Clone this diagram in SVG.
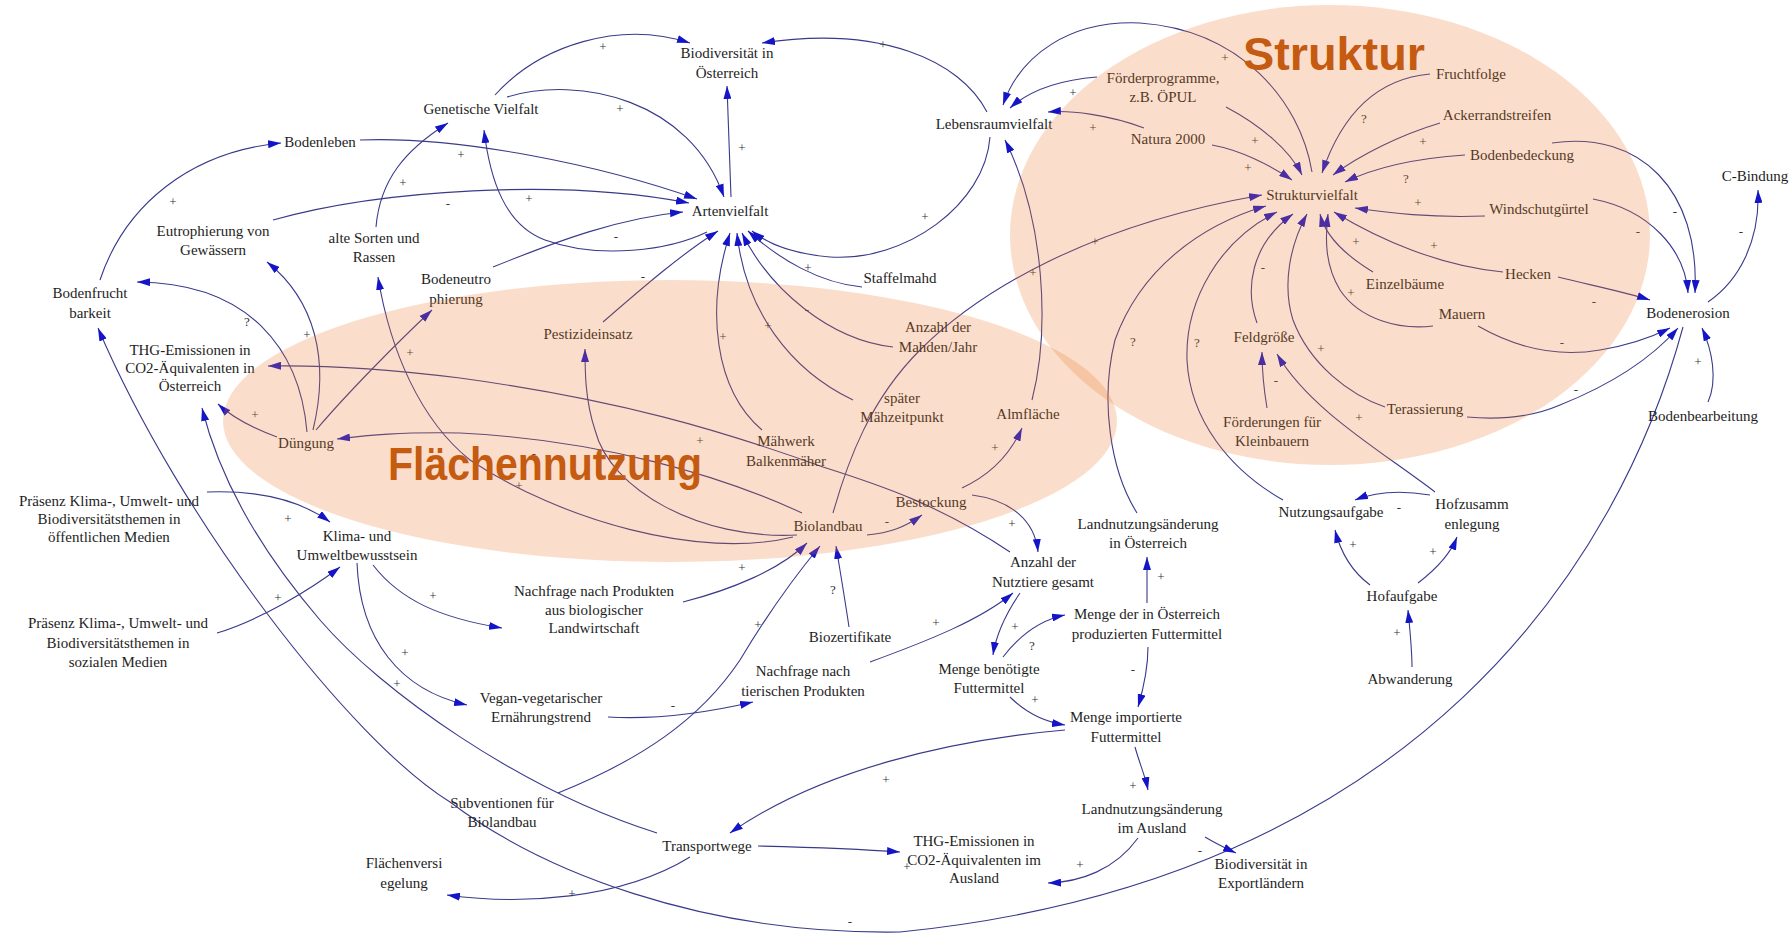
<svg xmlns="http://www.w3.org/2000/svg" width="1790" height="934" viewBox="0 0 1790 934">
<style>
.n{font-family:"Liberation Serif","Times New Roman",serif;font-size:15px;fill:#1e1e1e;text-anchor:middle}
.p{font-family:"Liberation Serif","Times New Roman",serif;font-size:13px;fill:#333;text-anchor:middle}
.c path{fill:none;stroke:#3a3a8a;stroke-width:1.1;marker-end:url(#a)}
.zone{fill:#ED7D31;opacity:0.25}
.big{font-family:"Liberation Sans",Arial,sans-serif;font-weight:bold;font-size:46px;fill:#C55A11}
</style>
<defs>
<marker id="a" viewBox="0 0 13 8" refX="13" refY="4" markerWidth="13" markerHeight="8" markerUnits="userSpaceOnUse" orient="auto"><path d="M0,0 L13,4 L0,8 z" fill="#1515c8"/></marker>
</defs>
<rect width="1790" height="934" fill="#fff"/>
<g id="connectors" class="c">
<path d="M 360 140 C 460 136, 600 165, 697 199"/>
<path d="M 100 280 C 125 205, 190 152, 281 143"/>
<path d="M 273 220 C 380 190, 560 178, 689 203"/>
<path d="M 493 267 C 560 240, 620 218, 683 212"/>
<path d="M 376 227 C 380 180, 405 150, 448 123"/>
<path d="M 495 95 C 540 45, 620 20, 690 43"/>
<path d="M 507 97 C 580 75, 690 100, 724 197"/>
<path d="M 707 232 C 670 250, 600 260, 545 240 C 505 225, 490 180, 484 130"/>
<path d="M 731 197 L 727 86"/>
<path d="M 987 112 C 960 60, 880 25, 762 43"/>
<path d="M 990 137 C 985 205, 905 262, 830 257 C 795 254, 768 244, 752 231"/>
<path d="M 862 287 C 820 283, 780 260, 748 231"/>
<path d="M 893 347 C 830 340, 770 290, 742 233"/>
<path d="M 853 400 C 790 370, 745 310, 737 233"/>
<path d="M 762 430 C 715 390, 705 310, 730 233"/>
<path d="M 603 322 C 640 290, 680 255, 718 231"/>
<path d="M 1097 77 C 1060 80, 1030 90, 1010 108"/>
<path d="M 1312 172 C 1300 100, 1240 30, 1140 23 C 1070 20, 1020 55, 1003 105"/>
<path d="M 1144 128 C 1110 115, 1070 110, 1048 112"/>
<path d="M 1212 145 C 1240 150, 1270 165, 1292 180"/>
<path d="M 1226 107 C 1260 125, 1290 150, 1302 175"/>
<path d="M 833 513 C 848 460, 870 400, 920 350 C 980 290, 1090 225, 1262 195"/>
<path d="M 1032 400 C 1050 330, 1045 220, 1005 140"/>
<path d="M 962 488 C 990 475, 1010 455, 1022 428"/>
<path d="M 867 535 C 890 533, 905 527, 922 515"/>
<path d="M 972 495 C 1010 500, 1035 520, 1038 552"/>
<path d="M 1010 552 C 940 505, 880 485, 823 467 C 720 430, 620 400, 460 378 C 380 368, 320 365, 268 366"/>
<path d="M 802 513 C 720 475, 600 440, 460 433 C 400 432, 370 435, 337 439"/>
<path d="M 797 535 C 700 540, 610 490, 595 430 C 585 400, 585 370, 585 349"/>
<path d="M 793 537 C 700 560, 560 520, 470 460 C 420 420, 390 350, 378 277"/>
<path d="M 277 437 C 258 430, 235 420, 218 404"/>
<path d="M 307 432 C 300 350, 250 283, 137 282"/>
<path d="M 313 430 C 330 360, 315 300, 267 262"/>
<path d="M 316 430 C 350 390, 400 340, 432 310"/>
<path d="M 207 492 C 260 490, 300 500, 330 522"/>
<path d="M 217 633 C 260 620, 310 590, 340 567"/>
<path d="M 357 563 C 360 640, 400 690, 467 705"/>
<path d="M 373 565 C 400 600, 440 618, 502 628"/>
<path d="M 657 833 C 520 790, 380 690, 320 620 C 260 550, 220 480, 202 408"/>
<path d="M 1683 327 C 1620 560, 1420 880, 900 932 C 700 935, 540 870, 450 802 C 350 740, 180 520, 98 328"/>
<path d="M 683 602 C 730 590, 780 570, 807 543"/>
<path d="M 558 793 C 640 760, 700 720, 740 660 C 770 610, 800 570, 820 546"/>
<path d="M 849 627 C 845 600, 840 570, 836 546"/>
<path d="M 870 662 C 930 640, 980 620, 1013 593"/>
<path d="M 608 717 C 660 720, 710 712, 753 702"/>
<path d="M 1020 593 C 1005 615, 996 635, 993 655"/>
<path d="M 1003 657 C 1020 635, 1040 620, 1065 615"/>
<path d="M 1147 603 L 1147 557"/>
<path d="M 1148 647 C 1148 670, 1143 690, 1138 707"/>
<path d="M 1010 697 C 1025 712, 1045 722, 1065 725"/>
<path d="M 1065 730 C 950 740, 820 770, 730 833"/>
<path d="M 758 846 C 800 847, 860 849, 900 852"/>
<path d="M 690 857 C 620 900, 520 905, 447 895"/>
<path d="M 1135 747 C 1140 765, 1145 775, 1148 790"/>
<path d="M 1138 838 C 1115 870, 1080 882, 1048 883"/>
<path d="M 1205 837 C 1215 843, 1225 848, 1236 853"/>
<path d="M 1137 513 C 1110 470, 1100 400, 1115 340 C 1140 270, 1200 225, 1266 206"/>
<path d="M 1283 500 C 1230 470, 1190 420, 1187 360 C 1185 300, 1220 240, 1277 212"/>
<path d="M 1257 323 C 1245 290, 1250 245, 1293 214"/>
<path d="M 1385 407 C 1350 395, 1310 365, 1293 320 C 1282 285, 1290 245, 1307 214"/>
<path d="M 1373 272 C 1345 255, 1325 235, 1320 214"/>
<path d="M 1433 326 C 1400 330, 1360 320, 1340 290 C 1325 265, 1325 240, 1328 214"/>
<path d="M 1503 272 C 1440 266, 1380 240, 1334 212"/>
<path d="M 1485 216 C 1430 218, 1390 213, 1355 208"/>
<path d="M 1465 155 C 1420 158, 1380 165, 1345 182"/>
<path d="M 1440 123 C 1400 135, 1360 155, 1333 175"/>
<path d="M 1430 74 C 1385 78, 1345 105, 1322 173"/>
<path d="M 1267 408 C 1264 390, 1262 370, 1262 352"/>
<path d="M 1435 492 C 1380 450, 1310 410, 1277 354"/>
<path d="M 1370 585 C 1350 570, 1340 550, 1335 530"/>
<path d="M 1418 583 C 1435 570, 1450 555, 1457 537"/>
<path d="M 1430 495 C 1400 490, 1375 492, 1355 500"/>
<path d="M 1412 667 C 1412 650, 1410 630, 1408 610"/>
<path d="M 1552 143 C 1640 130, 1700 190, 1695 293"/>
<path d="M 1593 199 C 1650 210, 1685 250, 1688 293"/>
<path d="M 1558 277 C 1590 285, 1625 292, 1650 300"/>
<path d="M 1478 326 C 1520 350, 1560 357, 1600 350 C 1630 345, 1650 338, 1670 328"/>
<path d="M 1467 417 C 1500 420, 1530 418, 1560 405 C 1610 385, 1650 360, 1678 328"/>
<path d="M 1708 402 C 1718 380, 1712 350, 1702 328"/>
<path d="M 1708 302 C 1740 280, 1760 240, 1758 190"/>
</g>
<g id="polarities" class="p">
<text x="461" y="159">+</text><text x="173" y="206">+</text><text x="448" y="208">-</text>
<text x="403" y="187">+</text><text x="529" y="203">+</text><text x="616" y="241">-</text>
<text x="603" y="51">+</text><text x="620" y="113">+</text><text x="742" y="152">+</text>
<text x="883" y="49">+</text><text x="925" y="221">+</text><text x="808" y="272">+</text>
<text x="807" y="314">-</text><text x="768" y="330">+</text><text x="723" y="341">+</text>
<text x="643" y="281">-</text><text x="1073" y="97">+</text><text x="1225" y="62">+</text>
<text x="1093" y="132">+</text><text x="1255" y="145">+</text><text x="1248" y="172">+</text>
<text x="1095" y="246">+</text><text x="1033" y="277">+</text><text x="995" y="452">+</text>
<text x="887" y="526">-</text><text x="1012" y="528">+</text><text x="700" y="445">+</text>
<text x="534" y="458">-</text><text x="519" y="490">+</text><text x="247" y="326">?</text>
<text x="307" y="339">+</text><text x="410" y="357">+</text><text x="255" y="419">+</text>
<text x="288" y="523">+</text><text x="278" y="602">+</text><text x="433" y="600">+</text>
<text x="405" y="657">+</text><text x="397" y="688">+</text><text x="742" y="572">+</text>
<text x="758" y="629">+</text><text x="833" y="594">?</text><text x="936" y="627">+</text>
<text x="673" y="710">-</text><text x="1015" y="631">+</text><text x="1032" y="650">?</text>
<text x="1161" y="581">+</text><text x="1133" y="674">-</text><text x="1035" y="704">+</text>
<text x="886" y="784">+</text><text x="907" y="871">+</text><text x="572" y="898">+</text>
<text x="1133" y="790">+</text><text x="1080" y="869">+</text><text x="1200" y="855">-</text>
<text x="850" y="926">-</text><text x="1133" y="346">?</text><text x="1197" y="347">?</text>
<text x="1263" y="272">-</text><text x="1276" y="385">-</text><text x="1321" y="353">+</text>
<text x="1359" y="422">+</text><text x="1351" y="297">+</text><text x="1356" y="246">+</text>
<text x="1434" y="250">+</text><text x="1418" y="207">+</text><text x="1406" y="183">?</text>
<text x="1423" y="146">+</text><text x="1364" y="123">?</text><text x="1675" y="216">-</text>
<text x="1638" y="236">-</text><text x="1594" y="306">-</text><text x="1562" y="347">-</text>
<text x="1576" y="394">-</text><text x="1698" y="366">+</text><text x="1741" y="236">-</text>
<text x="1353" y="549">+</text><text x="1433" y="556">+</text><text x="1399" y="512">-</text>
<text x="1397" y="637">+</text>
</g>
<g id="n-bodenleben"><text class="n" x="320" y="147">Bodenleben</text></g>
<g id="n-genetische"><text class="n" x="481" y="114">Genetische Vielfalt</text></g>
<g id="n-biodiv-at"><text class="n" x="727" y="58">Biodiversität in<tspan x="727" dy="20">Österreich</tspan></text></g>
<g id="n-artenvielfalt"><text class="n" x="730" y="216">Artenvielfalt</text></g>
<g id="n-lebensraum"><text class="n" x="994" y="129">Lebensraumvielfalt</text></g>
<g id="n-foerderprog"><text class="n" x="1163" y="83">Förderprogramme,<tspan x="1163" dy="19">z.B. ÖPUL</tspan></text></g>
<g id="n-natura"><text class="n" x="1168" y="144">Natura 2000</text></g>
<g id="n-struktur"><text class="n" x="1312" y="200">Strukturvielfalt</text></g>
<g id="n-fruchtfolge"><text class="n" x="1471" y="79">Fruchtfolge</text></g>
<g id="n-ackerrand"><text class="n" x="1497" y="120">Ackerrandstreifen</text></g>
<g id="n-bodenbed"><text class="n" x="1522" y="160">Bodenbedeckung</text></g>
<g id="n-cbindung"><text class="n" x="1755" y="181">C-Bindung</text></g>
<g id="n-windschut"><text class="n" x="1539" y="214">Windschutgürtel</text></g>
<g id="n-hecken"><text class="n" x="1528" y="279">Hecken</text></g>
<g id="n-einzelbaeume"><text class="n" x="1405" y="289">Einzelbäume</text></g>
<g id="n-mauern"><text class="n" x="1462" y="319">Mauern</text></g>
<g id="n-bodenerosion"><text class="n" x="1688" y="318">Bodenerosion</text></g>
<g id="n-terassierung"><text class="n" x="1425" y="414">Terassierung</text></g>
<g id="n-bodenbearb"><text class="n" x="1703" y="421">Bodenbearbeitung</text></g>
<g id="n-feldgroesse"><text class="n" x="1264" y="342">Feldgröße</text></g>
<g id="n-foerd-klein"><text class="n" x="1272" y="427">Förderungen für<tspan x="1272" dy="19">Kleinbauern</tspan></text></g>
<g id="n-hofzusamm"><text class="n" x="1472" y="509">Hofzusamm<tspan x="1472" dy="20">enlegung</tspan></text></g>
<g id="n-nutzungsaufgabe"><text class="n" x="1331" y="517">Nutzungsaufgabe</text></g>
<g id="n-hofaufgabe"><text class="n" x="1402" y="601">Hofaufgabe</text></g>
<g id="n-abwanderung"><text class="n" x="1410" y="684">Abwanderung</text></g>
<g id="n-eutroph"><text class="n" x="213" y="236">Eutrophierung von<tspan x="213" dy="19">Gewässern</tspan></text></g>
<g id="n-altesorten"><text class="n" x="374" y="243">alte Sorten und<tspan x="374" dy="19">Rassen</tspan></text></g>
<g id="n-bodenfrucht"><text class="n" x="90" y="298">Bodenfrucht<tspan x="90" dy="20">barkeit</tspan></text></g>
<g id="n-bodeneutro"><text class="n" x="456" y="284">Bodeneutro<tspan x="456" dy="20">phierung</tspan></text></g>
<g id="n-staffelmahd"><text class="n" x="900" y="283">Staffelmahd</text></g>
<g id="n-pestizid"><text class="n" x="588" y="339">Pestizideinsatz</text></g>
<g id="n-thg-at"><text class="n" x="190" y="355">THG-Emissionen in<tspan x="190" dy="18">CO2-Äquivalenten in</tspan><tspan x="190" dy="18">Österreich</tspan></text></g>
<g id="n-duengung"><text class="n" x="306" y="448">Düngung</text></g>
<g id="n-mahden"><text class="n" x="938" y="332">Anzahl der<tspan x="938" dy="20">Mahden/Jahr</tspan></text></g>
<g id="n-spaeter"><text class="n" x="902" y="403">später<tspan x="902" dy="19">Mähzeitpunkt</tspan></text></g>
<g id="n-almflaeche"><text class="n" x="1028" y="419">Almfläche</text></g>
<g id="n-maehwerk"><text class="n" x="786" y="446">Mähwerk<tspan x="786" dy="20">Balkenmäher</tspan></text></g>
<g id="n-bestockung"><text class="n" x="931" y="507">Bestockung</text></g>
<g id="n-biolandbau"><text class="n" x="828" y="531">Biolandbau</text></g>
<g id="n-praesenz-oeff"><text class="n" x="109" y="506">Präsenz Klima-, Umwelt- und<tspan x="109" dy="18">Biodiversitätsthemen in</tspan><tspan x="109" dy="18">öffentlichen Medien</tspan></text></g>
<g id="n-klima"><text class="n" x="357" y="541">Klima- und<tspan x="357" dy="19">Umweltbewusstsein</tspan></text></g>
<g id="n-praesenz-soz"><text class="n" x="118" y="628">Präsenz Klima-, Umwelt- und<tspan x="118" dy="20">Biodiversitätsthemen in</tspan><tspan x="118" dy="19">sozialen Medien</tspan></text></g>
<g id="n-nachfrage-bio"><text class="n" x="594" y="596">Nachfrage nach Produkten<tspan x="594" dy="19">aus biologischer</tspan><tspan x="594" dy="18">Landwirtschaft</tspan></text></g>
<g id="n-landnutz-at"><text class="n" x="1148" y="529">Landnutzungsänderung<tspan x="1148" dy="19">in Österreich</tspan></text></g>
<g id="n-nutztiere"><text class="n" x="1043" y="567">Anzahl der<tspan x="1043" dy="20">Nutztiere gesamt</tspan></text></g>
<g id="n-menge-at"><text class="n" x="1147" y="619">Menge der in Österreich<tspan x="1147" dy="20">produzierten Futtermittel</tspan></text></g>
<g id="n-biozert"><text class="n" x="850" y="642">Biozertifikate</text></g>
<g id="n-nachfrage-tier"><text class="n" x="803" y="676">Nachfrage nach<tspan x="803" dy="20">tierischen Produkten</tspan></text></g>
<g id="n-vegan"><text class="n" x="541" y="703">Vegan-vegetarischer<tspan x="541" dy="19">Ernährungstrend</tspan></text></g>
<g id="n-menge-benoetigt"><text class="n" x="989" y="674">Menge benötigte<tspan x="989" dy="19">Futtermittel</tspan></text></g>
<g id="n-menge-import"><text class="n" x="1126" y="722">Menge importierte<tspan x="1126" dy="20">Futtermittel</tspan></text></g>
<g id="n-subventionen"><text class="n" x="502" y="808">Subventionen für<tspan x="502" dy="19">Biolandbau</tspan></text></g>
<g id="n-transportwege"><text class="n" x="707" y="851">Transportwege</text></g>
<g id="n-landnutz-ausl"><text class="n" x="1152" y="814">Landnutzungsänderung<tspan x="1152" dy="19">im Ausland</tspan></text></g>
<g id="n-thg-ausl"><text class="n" x="974" y="846">THG-Emissionen in<tspan x="974" dy="19">CO2-Äquivalenten im</tspan><tspan x="974" dy="18">Ausland</tspan></text></g>
<g id="n-biodiv-export"><text class="n" x="1261" y="869">Biodiversität in<tspan x="1261" dy="19">Exportländern</tspan></text></g>
<g id="n-flaechenvers"><text class="n" x="404" y="868">Flächenversi<tspan x="404" dy="20">egelung</tspan></text></g>
<g id="zone-flaechennutzung"><ellipse class="zone" cx="670" cy="421" rx="447" ry="141"/></g>
<g id="zone-struktur"><ellipse class="zone" cx="1330" cy="235" rx="320" ry="230"/></g>
<g id="labels">
<text class="big" x="388" y="480" textLength="314" lengthAdjust="spacingAndGlyphs">Flächennutzung</text>
<text class="big" x="1243" y="70" textLength="182" lengthAdjust="spacingAndGlyphs">Struktur</text>
</g>
</svg>
